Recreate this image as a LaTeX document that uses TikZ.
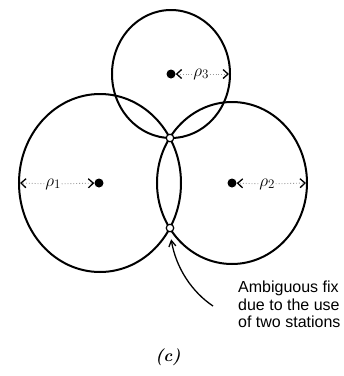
\documentclass[tikz,border=0pt]{standalone}
\usepackage{fontspec}
\newfontfamily\labelfont{Liberation Sans}
\usetikzlibrary{arrows.meta}
\newcommand{\rholabel}[1]{$\rho$\raisebox{-2.5pt}{\fontsize{13}{13}\selectfont #1}}
\tikzset{
  ring/.style={line width=2pt},
  station/.style={circle, fill=black, inner sep=0pt, minimum size=9pt},
  fixpt/.style={circle, draw=black, fill=white, line width=1.2pt, inner sep=0pt, minimum size=7.5pt},
  rholbl/.style={inner sep=1pt, font=\fontsize{17}{18}\selectfont},
  dimline/.style={draw=black!40, dotted, line width=0.9pt,
    -{Straight Barb[length=5pt,width=9pt,line width=1.3pt,color=black]}},
  callout/.style={line width=1.3pt, -{Straight Barb[length=6pt,width=7pt,line width=1.3pt]}}
}
\begin{document}
\begin{tikzpicture}[x=1pt,y=-1pt]
\useasboundingbox (0,0) rectangle (344,376);
% circles (slightly stretched vertically, as in the reference)
\coordinate (c1) at (100,183);
\coordinate (c2) at (232,183);
\coordinate (c3) at (171,74);
\draw[ring] (c1) ellipse [x radius=81pt, y radius=89pt];
\draw[ring] (c2) ellipse [x radius=75pt, y radius=81pt];
\draw[ring] (c3) ellipse [x radius=59pt, y radius=64pt];
% stations
\node[station] (s1) at (99,183) {};
\node[station] (s2) at (232,183) {};
\node[station] (s3) at (171,74) {};
% fixes
\node[fixpt] (fixU) at (170,138) {};
\node[fixpt] (fixL) at (170,228) {};
% radius labels
\coordinate (e1) at (20,183);
\coordinate (e2) at (306,183);
\coordinate (e3) at (229,74);
\node[rholbl] (r1) at (53,184) {\rholabel{1}};
\node[rholbl] (r2) at (267,184) {\rholabel{2}};
\node[rholbl] (r3) at (201,74) {\rholabel{3}};
\draw[dimline] (r1) -- (e1);
\draw[dimline] (r1) -- (s1);
\draw[dimline] (r2) -- (s2);
\draw[dimline] (r2) -- (e2);
\draw[dimline] (r3) -- (s3);
\draw[dimline] (r3) -- (e3);
% callout
\node[anchor=north west, align=left, inner sep=0pt,
      font=\labelfont\fontsize{16}{17.5}\selectfont] (amb) at (238,281)
  {Ambiguous fix\\due to the use\\of two stations};
\coordinate (tail) at (213,306);
\draw[callout] (tail) .. controls (192,292) and (176,268) .. (fixL.south) [shorten >=7pt];
% caption
\node[font=\fontsize{17}{19}\selectfont\bfseries\itshape] (cap) at (168,357) {(c)};
\end{tikzpicture}
\end{document}
